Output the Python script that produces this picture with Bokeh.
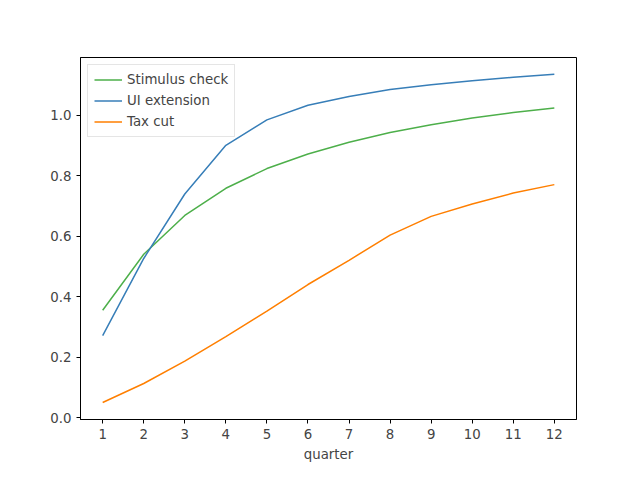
from bokeh.plotting import figure
from bokeh.models import Range1d, FixedTicker, Legend, LegendItem, CustomJSTickFormatter
from bokeh.embed import file_html
from bokeh.resources import INLINE

quarter = list(range(1, 13))
stimulus = [0.355, 0.54, 0.668, 0.758, 0.823, 0.871, 0.91, 0.942, 0.968, 0.99, 1.008, 1.023]
ui_ext = [0.271, 0.526, 0.739, 0.9, 0.984, 1.032, 1.061, 1.084, 1.1, 1.113, 1.125, 1.135]
tax_cut = [0.05, 0.113, 0.187, 0.268, 0.352, 0.44, 0.52, 0.603, 0.665, 0.706, 0.742, 0.77]

p = figure(width=624, height=464, output_backend="svg", toolbar_location=None,
           x_range=Range1d(0.46, 12.54), y_range=Range1d(-0.006, 1.19),
           min_border_left=80, min_border_right=48, min_border_top=57, min_border_bottom=36)
p.grid.visible = False
p.outline_line_color = "black"
p.xaxis.ticker = FixedTicker(ticks=quarter)
p.yaxis.ticker = FixedTicker(ticks=[0.0, 0.2, 0.4, 0.6, 0.8, 1.0])
p.yaxis.formatter = CustomJSTickFormatter(code="return tick.toFixed(1)")
p.xaxis.axis_label = "quarter"
for ax in (p.xaxis, p.yaxis):
    ax.axis_label_text_font_style = "normal"
    ax.axis_label_text_font = "DejaVu Sans"
    ax.axis_label_text_font_size = "10pt"
    ax.major_label_text_font = "DejaVu Sans"
    ax.major_label_text_font_size = "10pt"
    ax.minor_tick_line_color = None
    ax.major_tick_in = 0
    ax.major_tick_out = 4

r1 = p.line(quarter, stimulus, line_color="#4daf4a", line_width=1.5)
r2 = p.line(quarter, ui_ext, line_color="#377eb8", line_width=1.5)
r3 = p.line(quarter, tax_cut, line_color="#ff7f00", line_width=1.5)

legend = Legend(items=[LegendItem(label="Stimulus check", renderers=[r1]),
                       LegendItem(label="UI extension", renderers=[r2]),
                       LegendItem(label="Tax cut", renderers=[r3])],
                location="top_left", label_text_font="DejaVu Sans",
                label_text_font_size="10pt", spacing=4, padding=6,
                label_height=17, glyph_height=17, glyph_width=28,
                border_line_color="#cccccc", margin=7)
p.add_layout(legend)

open("out.html", "w").write(file_html(p, INLINE))
